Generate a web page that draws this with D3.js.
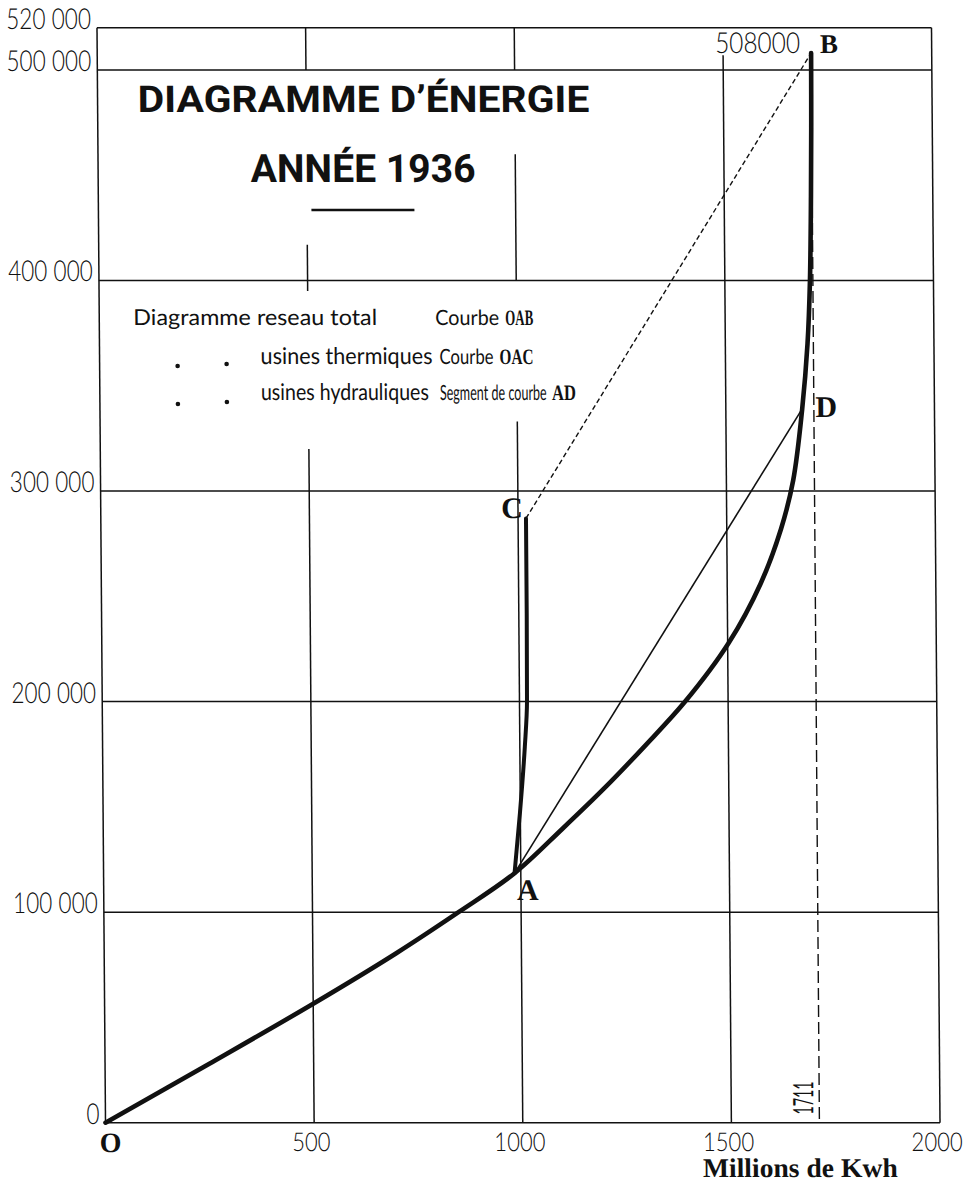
<!DOCTYPE html>
<html>
<head>
<meta charset="utf-8">
<script src="https://cdn.jsdelivr.net/npm/d3@7"></script>
<style>
  html, body { margin: 0; padding: 0; background: #fff; }
  svg { display: block; }
</style>
</head>
<body>
<script>
// ---- Data -------------------------------------------------------------
// Axis ticks
const xTickValues = [500, 1000, 1500, 2000];
const xTickLabels = ["500", "1000", "1500", "2000"];
const yTickValues = [0, 100000, 200000, 300000, 400000, 500000, 520000];
const yTickLabels = ["0", "100 000", "200 000", "300 000", "400 000", "500 000", "520 000"];

// Courbe OAB : réseau total (millions de kWh cumulés, puissance kW)
const totalKwh = [0, 250, 500, 700, 850, 985, 1100, 1200, 1300, 1397, 1502, 1580, 1630, 1660, 1683, 1697, 1704, 1708, 1710, 1711];
const totalKw  = [0, 28000, 56500, 80500, 100000, 118500, 139500, 158500, 179000, 200000, 227700, 256000, 282000, 305000, 339000, 370000, 400000, 440000, 475000, 508000];

// Courbe OAC : usines thermiques (partie A → C)
const thermalKwh = [985, 999, 1012, 1018, 1019, 1019];
const thermalKw  = [118500, 147000, 178600, 200000, 242000, 287000];

// Segment AD : usines hydrauliques
const hydroKwh = [985, 1683];
const hydroKw  = [118500, 339000];

// Points remarquables
const pointNames = ["O", "A", "B", "C", "D"];
const pointKwh   = [0, 985, 1711, 1019, 1683];
const pointKw    = [0, 118500, 508000, 287000, 339000];

// Maximum de puissance et énergie totale
const peakKw = 508000;
const peakKwh = 1711;

// ---- Drawing ----------------------------------------------------------
const W = 967, H = 1187;
const ink = "#111";

const svg = d3.select("body").append("svg")
  .attr("width", W).attr("height", H)
  .attr("viewBox", `0 0 ${W} ${H}`);

svg.append("rect").attr("width", W).attr("height", H).attr("fill", "#fff");

const x = d3.scaleLinear().domain([0, 2000]).range([97, 931.5]);
const y = d3.scaleLinear().domain([0, 520000]).range([1122.7, 27.8]);

// the printed sheet leans very slightly to the right towards the bottom
const g = svg.append("g")
  .attr("transform", "translate(0,28) skewX(0.445) translate(0,-28)");

const thinFont = "Lato, 'Open Sans', 'DejaVu Sans', sans-serif";
const serif = "'Liberation Serif', 'DejaVu Serif', serif";
const titleFont = "Roboto, 'DejaVu Sans', sans-serif";

// Writes a text squeezed horizontally to a given width (narrow lettering).
function fitText(parent, o) {
  const holder = parent.append("g").attr("transform", `translate(${o.x},${o.y})`);
  const inner = holder.append("g");
  const t = inner.append("text")
    .attr("text-anchor", o.anchor || "start")
    .attr("font-family", o.font).attr("font-weight", o.weight || 400)
    .attr("font-size", o.size).attr("fill", ink)
    .text(o.text);
  const natural = t.node().getComputedTextLength();
  const sx = o.width / natural;
  inner.attr("transform", `${o.rotate ? `rotate(${o.rotate}) ` : ""}scale(${sx},1)`);
  return holder;
}

// grid: horizontal lines across the full width
g.append("g").selectAll("line").data(yTickValues).join("line")
  .attr("x1", x(0)).attr("x2", x(2000))
  .attr("y1", d => y(d)).attr("y2", d => y(d))
  .attr("stroke", ink).attr("stroke-width", 1.5);

// grid: vertical lines, interrupted behind the title and the legend
const verticalRuns = [
  [0, 0, 520000],
  [500, 500000, 520000], [500, 395000, 417000], [500, 0, 320000],
  [1000, 500000, 520000], [1000, 400000, 460000], [1000, 0, 333000],
  [1500, 0, 507000],
  [2000, 0, 520000]
];
g.append("g").selectAll("line").data(verticalRuns).join("line")
  .attr("x1", d => x(d[0])).attr("x2", d => x(d[0]))
  .attr("y1", d => y(d[1])).attr("y2", d => y(d[2]))
  .attr("stroke", ink).attr("stroke-width", 1.5);

// y tick labels
g.append("g").selectAll("g").data(d3.zip(yTickValues, yTickLabels)).join("g")
  .attr("transform", d => `translate(91,${y(d[0]) + 1}) scale(0.78,1)`)
  .append("text")
  .attr("text-anchor", "end")
  .attr("font-family", thinFont).attr("font-weight", 300)
  .attr("font-size", 29).attr("fill", ink)
  .text(d => d[1]);

// x tick labels
g.append("g").selectAll("g").data(d3.zip(xTickValues, xTickLabels)).join("g")
  .attr("transform", d => `translate(${x(d[0]) - 3},1151) scale(0.85,1)`)
  .append("text")
  .attr("text-anchor", "middle")
  .attr("font-family", thinFont).attr("font-weight", 300)
  .attr("font-size", 26).attr("fill", ink)
  .text(d => d[1]);

// axis title
fitText(g, { text: "Millions de Kwh", x: 694, y: 1177, width: 195,
  font: serif, weight: "bold", size: 27 });

// title
fitText(g, { text: "DIAGRAMME D’ÉNERGIE", x: 363, y: 112, width: 452, anchor: "middle",
  font: titleFont, weight: "bold", size: 37 });
fitText(g, { text: "ANNÉE 1936", x: 362, y: 182, width: 225, anchor: "middle",
  font: titleFont, weight: "bold", size: 39 });
g.append("line")
  .attr("x1", 310).attr("x2", 413).attr("y1", 210).attr("y2", 210)
  .attr("stroke", ink).attr("stroke-width", 2.5);

// legend
const legendRows = [
  { y: 325, parts: [
    { t: "Diagramme reseau total", x: 131, w: 244, f: thinFont, b: 400, s: 22 },
    { t: "Courbe", x: 433, w: 64, f: thinFont, b: 400, s: 21 },
    { t: "OAB", x: 503, w: 28, f: serif, b: "bold", s: 22 } ] },
  { y: 364, parts: [
    { t: "usines thermiques", x: 258, w: 172, f: thinFont, b: 400, s: 23 },
    { t: "Courbe", x: 437, w: 54, f: thinFont, b: 400, s: 21 },
    { t: "OAC", x: 497, w: 34, f: serif, b: "bold", s: 22 } ] },
  { y: 400, parts: [
    { t: "usines hydrauliques", x: 258, w: 168, f: thinFont, b: 400, s: 23 },
    { t: "Segment de courbe", x: 437, w: 107, f: thinFont, b: 400, s: 21 },
    { t: "AD", x: 549, w: 24, f: serif, b: "bold", s: 22 } ] }
];
const lg = g.append("g");
legendRows.forEach(row => {
  row.parts.forEach(p => {
    fitText(lg, { text: p.t, x: p.x, y: row.y, width: p.w, font: p.f, weight: p.b, size: p.s });
  });
});
// ditto marks
[[175, 366], [224, 364], [175, 404], [224, 402]].forEach(([cx, cy]) => {
  lg.append("circle").attr("cx", cx).attr("cy", cy).attr("r", 2.3).attr("fill", ink);
});

// curves
const smoothLine = d3.line()
  .x(d => x(d[0])).y(d => y(d[1]))
  .curve(d3.curveCatmullRom.alpha(0.5));
const steepLine = d3.line()
  .x(d => x(d[0])).y(d => y(d[1]))
  .curve(d3.curveMonotoneY);
const straight = d3.line().x(d => x(d[0])).y(d => y(d[1]));

// vertical dashed line at the yearly energy total
g.append("line")
  .attr("x1", x(peakKwh)).attr("x2", x(peakKwh))
  .attr("y1", y(peakKw)).attr("y2", y(0))
  .attr("stroke", ink).attr("stroke-width", 1.4)
  .attr("stroke-dasharray", "12,5");

// dashed chord C → B
g.append("path")
  .datum([[pointKwh[3], pointKw[3]], [pointKwh[2], pointKw[2]]])
  .attr("d", straight)
  .attr("fill", "none").attr("stroke", ink).attr("stroke-width", 1.4)
  .attr("stroke-dasharray", "5,3");

// hydraulic segment AD
g.append("path")
  .datum(d3.zip(hydroKwh, hydroKw))
  .attr("d", straight)
  .attr("fill", "none").attr("stroke", ink).attr("stroke-width", 1.6);

// thermal curve AC
g.append("path")
  .datum(d3.zip(thermalKwh, thermalKw))
  .attr("d", steepLine)
  .attr("fill", "none").attr("stroke", ink).attr("stroke-width", 4)
  .attr("stroke-linecap", "round");

// total network curve OAB
g.append("path")
  .datum(d3.zip(totalKwh, totalKw))
  .attr("d", smoothLine)
  .attr("fill", "none").attr("stroke", ink).attr("stroke-width", 4.6)
  .attr("stroke-linecap", "round").attr("stroke-linejoin", "round");

// point letters
const letterOffsets = { O: [5, 29], A: [13, 27], B: [18, 0], C: [-14, 0], D: [24, 8] };
g.append("g").selectAll("text").data(d3.zip(pointNames, pointKwh, pointKw)).join("text")
  .attr("x", d => x(d[1]) + letterOffsets[d[0]][0])
  .attr("y", d => y(d[2]) + letterOffsets[d[0]][1])
  .attr("text-anchor", "middle")
  .attr("font-family", serif).attr("font-weight", "bold")
  .attr("font-size", d => d[0] === "B" ? 27 : (d[0] === "O" ? 28 : 30)).attr("fill", ink)
  .text(d => d[0]);

// peak value above B
fitText(g, { text: d3.format("d")(peakKw), x: x(peakKwh) - 11, y: y(peakKw), width: 85,
  anchor: "end", font: thinFont, weight: 300, size: 29 });

// energy total beside the dashed line
fitText(g, { text: d3.format("d")(peakKwh), x: x(peakKwh) - 6, y: 1098, width: 33,
  anchor: "middle", font: thinFont, weight: 400, size: 28, rotate: -90 });
</script>
</body>
</html>
